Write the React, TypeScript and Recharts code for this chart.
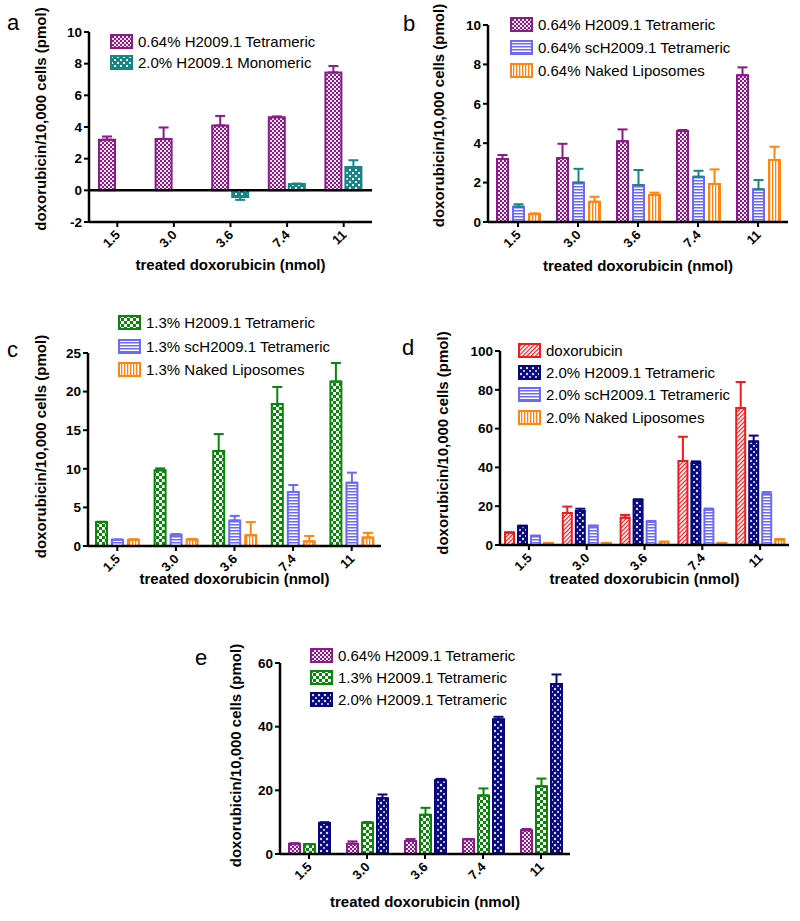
import React from 'react';
import { BarChart, Bar, XAxis, YAxis, ErrorBar, ReferenceLine, Legend, Label } from 'recharts';

const FONT = "'Liberation Sans', Arial, Helvetica, sans-serif";
const Y_TITLE = 'doxorubicin/10,000 cells (pmol)';
const X_TITLE = 'treated doxorubicin (nmol)';

const categories = ['1.5', '3.0', '3.6', '7.4', '11'];

// 0.64% H2009.1 Tetrameric
const tetra064 = [3.2, 3.25, 4.1, 4.62, 7.45];
const tetra064Err = [0.2, 0.72, 0.6, 0.05, 0.4];
// 2.0% H2009.1 Monomeric
const mono20 = [null, null, -0.42, 0.4, 1.47];
const mono20ErrLow = [null, null, 0.18, 0, 0];
const mono20ErrHigh = [null, null, 0, 0.03, 0.43];
// 0.64% scH2009.1 Tetrameric
const sc064 = [0.78, 2.0, 1.88, 2.3, 1.66];
const sc064Err = [0.12, 0.7, 0.76, 0.3, 0.47];
// 0.64% Naked Liposomes
const naked064 = [0.4, 1.03, 1.37, 1.93, 3.15];
const naked064Err = [0.04, 0.25, 0.12, 0.74, 0.67];
// 1.3% H2009.1 Tetrameric
const tetra13 = [3.1, 9.8, 12.3, 18.4, 21.3];
const tetra13Err = [0.05, 0.25, 2.2, 2.2, 2.4];
// 1.3% scH2009.1 Tetrameric
const sc13 = [0.8, 1.45, 3.3, 7.0, 8.2];
const sc13Err = [0.05, 0.1, 0.6, 0.9, 1.3];
// 1.3% Naked Liposomes
const naked13 = [0.8, 0.85, 1.4, 0.6, 1.1];
const naked13Err = [0.08, 0.05, 1.7, 0.7, 0.6];
// doxorubicin
const dox = [6.3, 16.5, 14.1, 43.3, 70.6];
const doxErr = [0.3, 3.3, 1.4, 12.5, 13.4];
// 2.0% H2009.1 Tetrameric
const tetra20 = [9.7, 17.5, 23.2, 42.3, 53.4];
const tetra20Err = [0.3, 1.2, 0.4, 0.8, 3.0];
// 2.0% scH2009.1 Tetrameric
const sc20 = [4.6, 9.8, 12.0, 18.3, 26.2];
const sc20Err = [0.3, 0.3, 0.4, 0.5, 1.1];
// 2.0% Naked Liposomes
const naked20 = [1.0, 1.0, 1.5, 1.0, 2.8];
const naked20Err = [0.1, 0.1, 0.3, 0.1, 0.3];

const upErr = (errs: (number | null)[]) => errs.map((e) => (e == null ? null : [0, e]));

const C = {
  purple: '#8b1a8b',
  teal: '#168585',
  green: '#0a840a',
  navy: '#06067f',
  blue: '#6b6bf5',
  orange: '#ff8410',
  red: '#ee1c1c',
};

type Series = {
  key: string;
  name: string;
  values: (number | null)[];
  err: (number[] | null)[];
  fill: string;
  color: string;
  errColor: string;
};

type PanelCfg = {
  left: number;
  top: number;
  width: number;
  height: number;
  mTop: number;
  mRight: number;
  yWidth: number;
  xHeight: number;
  domain: [number, number];
  ticks: number[];
  series: Series[];
  barSize: number;
  barGap: number;
  legLeft: number;
  legTop: number;
  rowH: number;
  yTitleX: number;
  yTitleDy: number;
  xTitleOffset: number;
  zeroLine?: boolean;
};

const RotTick = (props: any) => {
  const { x, y, payload } = props;
  return (
    <g transform={`translate(${x - 3},${y})`}>
      <text
        x={0}
        y={0}
        dy="0.72em"
        transform="rotate(-45)"
        textAnchor="end"
        fontSize={13}
        fontWeight="bold"
        fill="#000"
        fontFamily={FONT}
      >
        {payload.value}
      </text>
    </g>
  );
};

const makeYTitle = (cx: number, dy: number) => (props: any) => {
  const vb = props.viewBox || { x: 0, y: 0, width: 0, height: 0 };
  const x = vb.x + cx;
  const y = vb.y + vb.height / 2 + dy;
  return (
    <text
      x={x}
      y={y}
      transform={`rotate(-90 ${x} ${y})`}
      textAnchor="middle"
      dominantBaseline="central"
      fontSize={15}
      fontWeight="bold"
      fill="#000"
      fontFamily={FONT}
    >
      {Y_TITLE}
    </text>
  );
};

const makeLegend = (series: Series[], rowH: number) => () => (
  <div style={{ fontFamily: FONT }}>
    {series.map((s) => (
      <div key={s.key} style={{ display: 'flex', alignItems: 'center', height: rowH }}>
        <svg width={23} height={15} style={{ display: 'block' }}>
          <rect x={1} y={1} width={21} height={13} fill={s.fill} stroke={s.color} strokeWidth={2} />
        </svg>
        <span style={{ marginLeft: 5, fontSize: 15, color: '#000', whiteSpace: 'nowrap' }}>{s.name}</span>
      </div>
    ))}
  </div>
);

const Panel = ({ cfg }: { cfg: PanelCfg }) => {
  const rows = categories.map((c, i) => {
    const r: any = { cat: c };
    cfg.series.forEach((s) => {
      r[s.key] = s.values[i];
      r[s.key + 'E'] = s.err[i];
    });
    return r;
  });
  return (
    <div style={{ position: 'absolute', left: cfg.left, top: cfg.top }}>
      <BarChart
        width={cfg.width}
        height={cfg.height}
        data={rows}
        margin={{ top: cfg.mTop, right: cfg.mRight, bottom: 0, left: 0 }}
        barSize={cfg.barSize}
        barGap={cfg.barGap}
      >
        <XAxis
          dataKey="cat"
          height={cfg.xHeight}
          interval={0}
          tickSize={5}
          axisLine={{ stroke: '#000', strokeWidth: 2.5 }}
          tickLine={{ stroke: '#000', strokeWidth: 2 }}
          tick={RotTick}
        >
          <Label
            value={X_TITLE}
            position="insideBottom"
            offset={cfg.xTitleOffset}
            style={{ fontSize: 15, fontWeight: 'bold', fill: '#000', fontFamily: FONT }}
          />
        </XAxis>
        <YAxis
          width={cfg.yWidth}
          domain={cfg.domain}
          ticks={cfg.ticks}
          interval={0}
          tickSize={5}
          axisLine={{ stroke: '#000', strokeWidth: 2.5 }}
          tickLine={{ stroke: '#000', strokeWidth: 2 }}
          tick={{ fontSize: 13.5, fontWeight: 'bold', fill: '#000', fontFamily: FONT }}
        >
          <Label content={makeYTitle(cfg.yTitleX, cfg.yTitleDy)} />
        </YAxis>
        {cfg.series.map((s) => (
          <Bar key={s.key} dataKey={s.key} fill={s.fill} stroke={s.color} strokeWidth={2} isAnimationActive={false}>
            <ErrorBar dataKey={s.key + 'E'} width={5} strokeWidth={2} stroke={s.errColor} direction="y" />
          </Bar>
        ))}
        {cfg.zeroLine && <ReferenceLine y={0} stroke="#000" strokeWidth={2.5} />}
        <Legend
          layout="vertical"
          align="center"
          verticalAlign="middle"
          content={makeLegend(cfg.series, cfg.rowH)}
          wrapperStyle={{ left: cfg.legLeft, top: cfg.legTop, width: 'auto', height: 'auto' }}
        />
      </BarChart>
    </div>
  );
};

const sTetra064: Series = { key: 't064', name: '0.64% H2009.1 Tetrameric', values: tetra064, err: upErr(tetra064Err), fill: 'url(#pPurple)', color: C.purple, errColor: C.purple };
const sMono20: Series = {
  key: 'm20',
  name: '2.0% H2009.1 Monomeric',
  values: mono20,
  err: mono20.map((v, i) => (v == null ? null : [mono20ErrLow[i] as number, mono20ErrHigh[i] as number])),
  fill: 'url(#pTeal)',
  color: C.teal,
  errColor: C.teal,
};
const sSc064: Series = { key: 's064', name: '0.64% scH2009.1 Tetrameric', values: sc064, err: upErr(sc064Err), fill: 'url(#pBlue)', color: C.blue, errColor: C.teal };
const sNaked064: Series = { key: 'n064', name: '0.64% Naked Liposomes', values: naked064, err: upErr(naked064Err), fill: 'url(#pOrange)', color: C.orange, errColor: C.orange };
const sTetra13: Series = { key: 't13', name: '1.3% H2009.1 Tetrameric', values: tetra13, err: upErr(tetra13Err), fill: 'url(#pGreen)', color: C.green, errColor: C.green };
const sSc13: Series = { key: 's13', name: '1.3% scH2009.1 Tetrameric', values: sc13, err: upErr(sc13Err), fill: 'url(#pBlue)', color: C.blue, errColor: C.blue };
const sNaked13: Series = { key: 'n13', name: '1.3% Naked Liposomes', values: naked13, err: upErr(naked13Err), fill: 'url(#pOrange)', color: C.orange, errColor: C.orange };
const sDox: Series = { key: 'dox', name: 'doxorubicin', values: dox, err: upErr(doxErr), fill: 'url(#pRed)', color: C.red, errColor: C.red };
const sTetra20: Series = { key: 't20', name: '2.0% H2009.1 Tetrameric', values: tetra20, err: upErr(tetra20Err), fill: 'url(#pNavy)', color: C.navy, errColor: C.navy };
const sSc20: Series = { key: 's20', name: '2.0% scH2009.1 Tetrameric', values: sc20, err: upErr(sc20Err), fill: 'url(#pBlue)', color: C.blue, errColor: C.blue };
const sNaked20: Series = { key: 'n20', name: '2.0% Naked Liposomes', values: naked20, err: upErr(naked20Err), fill: 'url(#pOrange)', color: C.orange, errColor: C.orange };

const panels: PanelCfg[] = [
  {
    left: 0, top: 0, width: 380, height: 282, mTop: 32, mRight: 8, yWidth: 89, xHeight: 60,
    domain: [-2, 10], ticks: [-2, 0, 2, 4, 6, 8, 10], series: [sTetra064, sMono20],
    barSize: 16, barGap: 4, legLeft: 110, legTop: 31, rowH: 21, yTitleX: 40, yTitleDy: -8, xTitleOffset: 12, zeroLine: true,
  },
  {
    left: 400, top: 0, width: 400, height: 282, mTop: 25, mRight: 12, yWidth: 88, xHeight: 60,
    domain: [0, 10], ticks: [0, 2, 4, 6, 8, 10], series: [sTetra064, sSc064, sNaked064],
    barSize: 11, barGap: 5, legLeft: 110, legTop: 13, rowH: 23, yTitleX: 38, yTitleDy: -8, xTitleOffset: 11,
  },
  {
    left: 0, top: 290, width: 390, height: 300, mTop: 63, mRight: 9, yWidth: 88, xHeight: 44,
    domain: [0, 25], ticks: [0, 5, 10, 15, 20, 25], series: [sTetra13, sSc13, sNaked13],
    barSize: 11, barGap: 5, legLeft: 118, legTop: 21, rowH: 23.5, yTitleX: 40, yTitleDy: -3, xTitleOffset: 6,
  },
  {
    left: 400, top: 290, width: 400, height: 300, mTop: 61, mRight: 11, yWidth: 100, xHeight: 45,
    domain: [0, 100], ticks: [0, 20, 40, 60, 80, 100], series: [sDox, sTetra20, sSc20, sNaked20],
    barSize: 9, barGap: 4, legLeft: 118, legTop: 49, rowH: 22.3, yTitleX: 42, yTitleDy: -5, xTitleOffset: 6,
  },
  {
    left: 180, top: 590, width: 400, height: 331, mTop: 73, mRight: 10, yWidth: 100, xHeight: 67,
    domain: [0, 60], ticks: [0, 20, 40, 60], series: [sTetra064, sTetra13, sTetra20],
    barSize: 11, barGap: 4, legLeft: 130, legTop: 54, rowH: 22, yTitleX: 55, yTitleDy: -3, xTitleOffset: 14,
  },
];

const panelLetters = ['a', 'b', 'c', 'd', 'e'];
const letterX = [7, 403, 7, 402, 195];
const letterY = [30, 31, 357, 355, 665];

const Patterns = () => (
  <svg width={0} height={0} style={{ position: 'absolute' }}>
    <defs>
      <pattern id="pPurple" width={4} height={4} patternUnits="userSpaceOnUse">
        <rect width={4} height={4} fill="#f6e6f6" />
        <rect width={2} height={2} fill={C.purple} />
        <rect x={2} y={2} width={2} height={2} fill={C.purple} />
      </pattern>
      <pattern id="pTeal" width={6} height={6} patternUnits="userSpaceOnUse">
        <rect width={6} height={6} fill={C.teal} />
        <rect x={1} y={1} width={2} height={2} fill="#fff" />
        <rect x={4} y={4} width={2} height={2} fill="#fff" />
      </pattern>
      <pattern id="pGreen" width={6} height={6} patternUnits="userSpaceOnUse">
        <rect width={6} height={6} fill="#fff" />
        <rect width={3} height={3} fill={C.green} />
        <rect x={3} y={3} width={3} height={3} fill={C.green} />
      </pattern>
      <pattern id="pNavy" width={6} height={6} patternUnits="userSpaceOnUse">
        <rect width={6} height={6} fill={C.navy} />
        <polygon points="3,1.6 4.4,3 3,4.4 1.6,3" fill="#fff" />
        <polygon points="0,0 1.2,0 0,1.2" fill="#fff" />
        <polygon points="6,0 6,1.2 4.8,0" fill="#fff" />
        <polygon points="0,6 0,4.8 1.2,6" fill="#fff" />
        <polygon points="6,6 4.8,6 6,4.8" fill="#fff" />
      </pattern>
      <pattern id="pBlue" width={3} height={3} patternUnits="userSpaceOnUse">
        <rect width={3} height={3} fill="#fff" />
        <rect width={3} height={1.5} fill={C.blue} />
      </pattern>
      <pattern id="pOrange" width={3} height={3} patternUnits="userSpaceOnUse">
        <rect width={3} height={3} fill="#fff" />
        <rect width={1.3} height={3} fill={C.orange} />
      </pattern>
      <pattern id="pRed" width={3} height={3} patternUnits="userSpaceOnUse" patternTransform="rotate(45)">
        <rect width={3} height={3} fill="#fff" />
        <rect width={1.2} height={3} fill={C.red} />
      </pattern>
    </defs>
  </svg>
);

export default function App() {
  return (
    <div style={{ position: 'absolute', left: 0, top: 0, width: 800, height: 921, background: '#fff', fontFamily: FONT }}>
      <Patterns />
      {panels.map((p, i) => (
        <Panel key={i} cfg={p} />
      ))}
      <svg width={800} height={921} style={{ position: 'absolute', left: 0, top: 0, pointerEvents: 'none' }}>
        {panelLetters.map((l, i) => (
          <text key={l} x={letterX[i]} y={letterY[i]} fontSize={22} fontFamily={FONT} fill="#000">
            {l}
          </text>
        ))}
      </svg>
    </div>
  );
}
